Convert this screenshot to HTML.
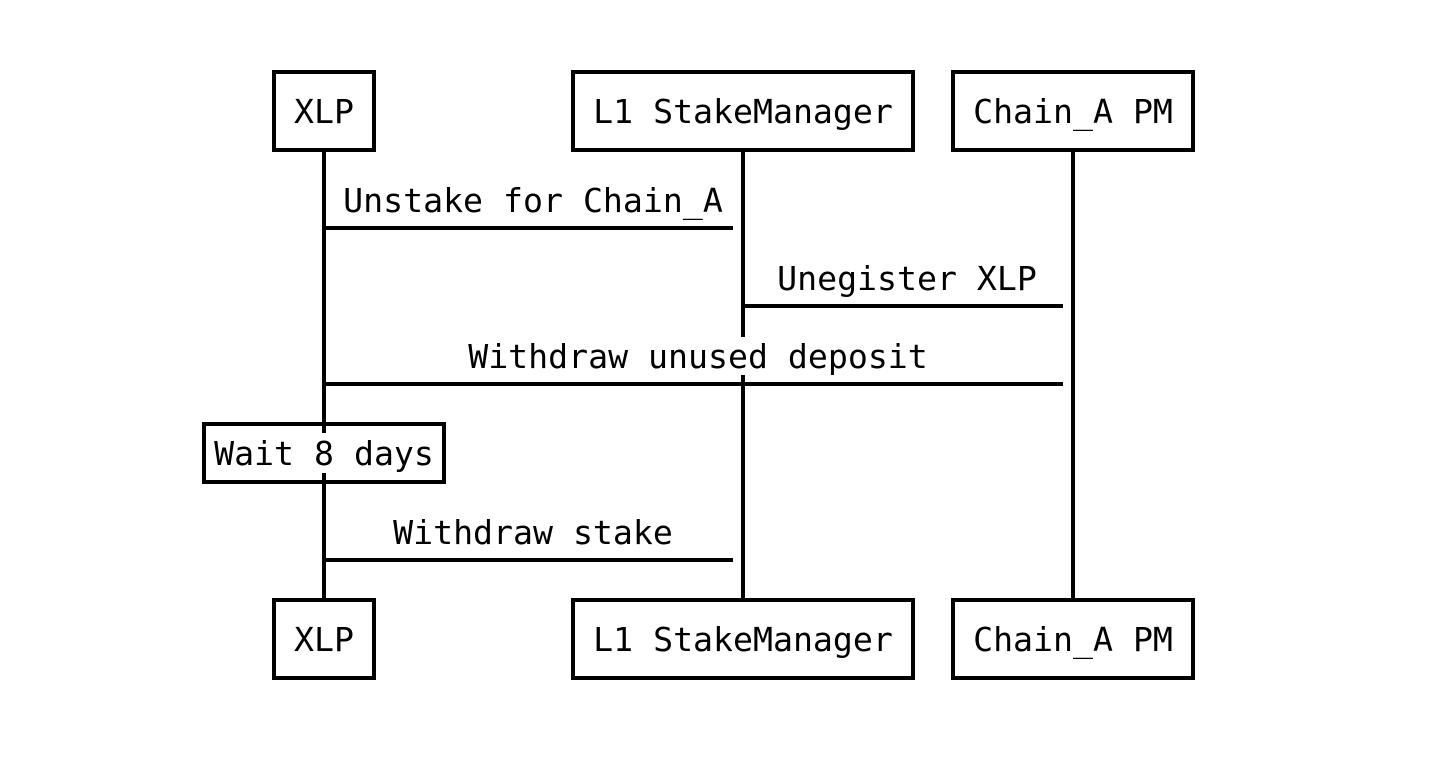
<!DOCTYPE html>
<html><head><meta charset="utf-8"><style>
html,body{margin:0;padding:0;background:#fff;}
svg text{font-family:"DejaVu Sans Mono","Liberation Mono",monospace;font-size:33.2px;fill:#000;}
</style></head><body>
<svg width="1436" height="764" viewBox="0 0 1436 764" xmlns="http://www.w3.org/2000/svg">
<rect width="1436" height="764" fill="#fff"/>
<g stroke="#000" stroke-width="4" fill="none">
<line x1="324" y1="150" x2="324" y2="600"/>
<line x1="743" y1="150" x2="743" y2="600"/>
<line x1="1073" y1="150" x2="1073" y2="600"/>
</g>
<rect x="735" y="337" width="16" height="38" fill="#fff"/>
<g stroke="#000" stroke-width="4" fill="none">
<line x1="322" y1="228" x2="733" y2="228"/>
<line x1="741" y1="306" x2="1063" y2="306"/>
<line x1="322" y1="384" x2="1063" y2="384"/>
<line x1="322" y1="560" x2="733" y2="560"/>
<rect x="274" y="72" width="100" height="78" fill="#fff"/>
<rect x="573" y="72" width="340" height="78" fill="#fff"/>
<rect x="953" y="72" width="240" height="78" fill="#fff"/>
<rect x="274" y="600" width="100" height="78" fill="#fff"/>
<rect x="573" y="600" width="340" height="78" fill="#fff"/>
<rect x="953" y="600" width="240" height="78" fill="#fff"/>
<rect x="204" y="424" width="240" height="58" fill="#fff"/>
</g>
<line x1="324" y1="482" x2="324" y2="600" stroke="#000" stroke-width="4"/>
<line x1="324" y1="422" x2="324" y2="433" stroke="#000" stroke-width="4"/>
<line x1="324" y1="473" x2="324" y2="482" stroke="#000" stroke-width="4"/>
<g text-anchor="middle">
<text x="324" y="123">XLP</text>
<text x="743" y="123">L1 StakeManager</text>
<text x="1073" y="123">Chain_A PM</text>
<text x="324" y="651">XLP</text>
<text x="743" y="651">L1 StakeManager</text>
<text x="1073" y="651">Chain_A PM</text>
<text x="533" y="212">Unstake for Chain_A</text>
<text x="907" y="290">Unegister XLP</text>
<text x="698" y="368">Withdraw unused deposit</text>
<text x="324" y="465">Wait 8 days</text>
<text x="533" y="544">Withdraw stake</text>
</g>
</svg>
</body></html>
